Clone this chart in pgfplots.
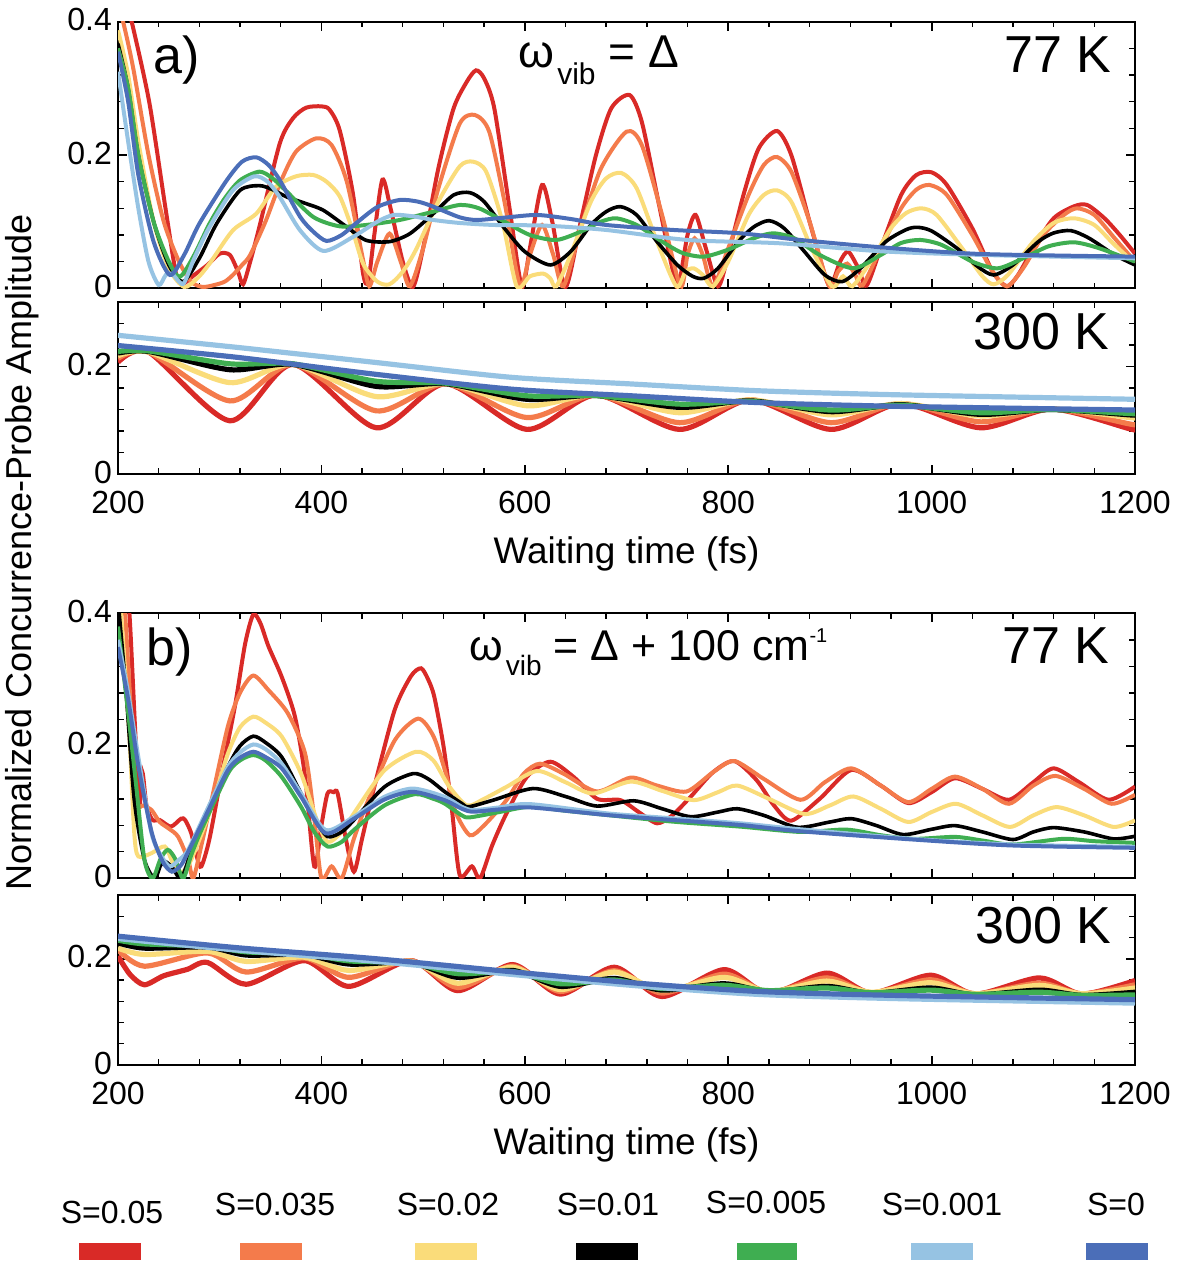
\documentclass[border=0pt]{standalone}
\usepackage{fontspec}
\setmainfont{Liberation Sans}
\usepackage{pgfplots}
\pgfplotsset{compat=1.18}
\definecolor{cR}{RGB}{217,42,39}
\definecolor{cO}{RGB}{244,123,75}
\definecolor{cY}{RGB}{250,220,122}
\definecolor{cK}{RGB}{0,0,0}
\definecolor{cG}{RGB}{63,174,81}
\definecolor{cL}{RGB}{150,195,227}
\definecolor{cB}{RGB}{75,110,184}
\newcommand\fs[1]{\fontsize{#1}{#1}\selectfont}
\pgfplotsset{
  panel/.style={
    scale only axis, width=508.5pt,
    xmin=200, xmax=1200, ymin=0,
    xtick={200,400,...,1200}, minor x tick num=4,
    tick align=inside,
    major tick length=4.5pt, minor tick length=2.8pt,
    axis line style={line width=1pt},
    every major tick/.append style={line width=0.9pt, black},
    every minor tick/.append style={line width=0.7pt, black},
    tick label style={font=\fs{16}},
    /pgf/number format/assume math mode=true,
    /pgf/number format/1000 sep={},
    xticklabel style={yshift=-5pt},
    yticklabel style={xshift=0.5pt, yshift=1pt},
    clip=true,
  },
  lw/.style={line width=2pt, smooth, tension=0.45},
  sR/.style={cR, lw}, sO/.style={cO, lw}, sY/.style={cY, lw}, sK/.style={cK, lw, line width=1.8pt},
  sG/.style={cG, lw}, sL/.style={cL, lw}, sB/.style={cB, lw},
  hot/.style={line width=2.6pt},
  xl/.style={xlabel={Waiting time (fs)}, xlabel style={font=\fs{18.5}, at={(axis description cs:0.5,0)}, anchor=north, inner sep=0pt, yshift=-31pt}},
}
\begin{document}
\begin{tikzpicture}
\useasboundingbox (0,0) rectangle (588pt,-630.5pt);
% ---------------- a) 77 K
\begin{axis}[panel, at={(59pt,-10.85pt)}, anchor=north west, height=133.3pt,
  ymax=0.4, ytick={0,0.2,0.4}, minor ytick={0.04,0.08,0.12,0.16,0.24,0.28,0.32,0.36}, xticklabels={}]
\addplot[sR] coordinates {(200,0.47) (208,0.43) (215,0.39) (231,0.277) (247,0.117) (257,0.022) (263,0.006) (275,0.02) (288,0.035) (300,0.052) (310,0.05) (318,0.025) (323,0.006) (330,0.04) (339,0.092) (359,0.217) (372,0.255) (385,0.271) (400,0.273) (408,0.268) (418,0.237) (431,0.142) (441,0.022) (446,0.01) (452,0.08) (460,0.163) (468,0.12) (480,0.04) (490,0.002) (500,0.06) (515,0.18) (530,0.27) (543,0.31) (552,0.327) (560,0.315) (570,0.27) (585,0.12) (597,0.003) (605,0.06) (617,0.155) (627,0.1) (640,0.002) (655,0.1) (670,0.2) (685,0.27) (703,0.29) (715,0.25) (730,0.14) (745,0.03) (751,0.003) (760,0.08) (768,0.11) (778,0.06) (790,0.003) (800,0.05) (815,0.14) (830,0.21) (848,0.236) (862,0.2) (880,0.1) (895,0.02) (901,0.003) (910,0.04) (918,0.055) (928,0.03) (936,0.004) (950,0.06) (970,0.14) (985,0.17) (1000,0.174) (1015,0.155) (1040,0.09) (1060,0.025) (1074,0.003) (1085,0.02) (1100,0.06) (1120,0.105) (1140,0.123) (1153,0.125) (1170,0.105) (1185,0.08) (1200,0.052)};
\addplot[sO] coordinates {(200,0.42) (205,0.4) (215,0.33) (230,0.2) (245,0.1) (260,0.04) (272,0.01) (283,0.002) (295,0.005) (305,0.01) (313,0.02) (322,0.035) (330,0.05) (345,0.1) (360,0.16) (375,0.205) (395,0.225) (410,0.215) (425,0.16) (440,0.05) (447,0.003) (455,0.04) (467,0.082) (478,0.04) (487,0.003) (500,0.06) (515,0.15) (536,0.247) (551,0.26) (565,0.235) (580,0.13) (595,0.005) (605,0.05) (617,0.095) (628,0.05) (638,0.003) (655,0.09) (675,0.18) (700,0.235) (715,0.215) (735,0.11) (753,0.003) (760,0.05) (767,0.075) (775,0.05) (785,0.003) (800,0.06) (820,0.14) (835,0.185) (848,0.197) (862,0.175) (880,0.1) (899,0.004) (908,0.025) (917,0.037) (925,0.02) (932,0.004) (950,0.06) (970,0.12) (985,0.148) (998,0.155) (1015,0.14) (1040,0.08) (1060,0.025) (1074,0.003) (1090,0.03) (1110,0.08) (1130,0.11) (1143,0.12) (1160,0.11) (1180,0.075) (1200,0.04)};
\addplot[sY] coordinates {(200,0.387) (210,0.32) (220,0.22) (235,0.1) (250,0.03) (265,0.002) (278,0.015) (290,0.037) (313,0.087) (336,0.112) (355,0.152) (375,0.168) (392,0.17) (405,0.16) (418,0.138) (430,0.09) (441,0.037) (455,0.01) (467,0.006) (480,0.025) (493,0.058) (515,0.13) (536,0.183) (549,0.19) (562,0.175) (578,0.1) (592,0.003) (605,0.018) (618,0.022) (625,0.015) (631,0.003) (645,0.05) (665,0.13) (680,0.165) (695,0.173) (710,0.15) (730,0.07) (749,0.003) (758,0.025) (766,0.03) (775,0.02) (785,0.003) (800,0.04) (820,0.11) (835,0.14) (848,0.147) (862,0.13) (882,0.06) (902,0.003) (913,0.018) (922,0.003) (940,0.04) (960,0.09) (975,0.113) (990,0.12) (1005,0.11) (1030,0.06) (1050,0.018) (1061,0.006) (1075,0.02) (1100,0.07) (1120,0.098) (1140,0.105) (1160,0.095) (1180,0.065) (1200,0.037)};
\addplot[sK] coordinates {(200,0.367) (210,0.3) (220,0.2) (235,0.1) (250,0.035) (264,0.01) (280,0.045) (297,0.097) (320,0.147) (339,0.154) (352,0.148) (366,0.137) (385,0.127) (402,0.117) (425,0.092) (444,0.072) (467,0.07) (487,0.082) (510,0.112) (530,0.14) (546,0.1435) (560,0.13) (580,0.09) (600,0.055) (625,0.035) (645,0.055) (665,0.095) (680,0.115) (694,0.1225) (710,0.11) (730,0.07) (750,0.035) (765,0.018) (776,0.015) (790,0.03) (810,0.07) (825,0.092) (840,0.1015) (855,0.09) (875,0.055) (895,0.02) (912,0.01) (930,0.03) (955,0.07) (975,0.088) (986,0.0915) (1000,0.086) (1025,0.06) (1045,0.033) (1061,0.02) (1080,0.035) (1105,0.07) (1120,0.083) (1137,0.0865) (1155,0.075) (1180,0.05) (1200,0.035)};
\addplot[sG] coordinates {(200,0.36) (210,0.3) (220,0.2) (235,0.1) (250,0.04) (261,0.0175) (275,0.05) (290,0.097) (305,0.135) (320,0.162) (339,0.175) (352,0.165) (366,0.145) (392,0.107) (418,0.093) (444,0.095) (477,0.1025) (510,0.115) (536,0.125) (555,0.12) (580,0.1) (605,0.08) (631,0.0725) (655,0.085) (675,0.1) (690,0.105) (710,0.095) (735,0.07) (755,0.053) (776,0.0475) (800,0.058) (825,0.075) (844,0.0825) (865,0.075) (890,0.05) (923,0.03) (950,0.05) (970,0.068) (989,0.0725) (1010,0.065) (1040,0.04) (1065,0.03) (1090,0.045) (1115,0.063) (1140,0.069) (1165,0.06) (1200,0.04)};
\addplot[sL] coordinates {(200,0.325) (210,0.22) (220,0.12) (230,0.04) (240,0.005) (247,0.02) (253,0.022) (260,0.01) (265,0.008) (275,0.045) (290,0.092) (313,0.147) (334,0.168) (347,0.16) (359,0.137) (379,0.087) (402,0.056) (431,0.077) (455,0.1) (471,0.11) (490,0.108) (510,0.1025) (536,0.098) (570,0.095) (620,0.094) (680,0.0875) (760,0.0725) (851,0.0675) (950,0.0555) (1050,0.05) (1200,0.045)};
\addplot[sB] coordinates {(200,0.355) (210,0.28) (220,0.17) (235,0.07) (251,0.02) (265,0.05) (280,0.097) (306,0.16) (322,0.19) (336,0.1965) (348,0.185) (359,0.1625) (379,0.1075) (392,0.085) (405,0.071) (420,0.08) (434,0.0975) (455,0.122) (477,0.1325) (495,0.13) (510,0.1225) (536,0.1065) (553,0.1025) (580,0.106) (612,0.11) (645,0.104) (680,0.095) (746,0.0875) (812,0.0825) (871,0.0725) (950,0.0615) (1048,0.0515) (1200,0.0475)};
\end{axis}
% ---------------- a) 300 K
\begin{axis}[panel, at={(59pt,-151pt)}, anchor=north west, height=86pt,
  ymax=0.32, ytick={0,0.2}, minor ytick={0.04,0.08,0.12,0.16,0.24,0.28}, xl]
\addplot[sR,hot] coordinates {(200,0.208) (230,0.227) (310,0.099) (372,0.204) (454,0.086) (522,0.168) (602,0.083) (670,0.147) (752,0.083) (822,0.138) (901,0.083) (970,0.131) (1048,0.086) (1118,0.121) (1195,0.084) (1200,0.0835)};
\addplot[sO,hot] coordinates {(200,0.215) (230,0.227) (310,0.136) (372,0.204) (454,0.1175) (522,0.168) (602,0.105) (670,0.147) (752,0.0955) (822,0.138) (901,0.0955) (970,0.131) (1048,0.097) (1118,0.121) (1195,0.093) (1200,0.093)};
\addplot[sY,hot] coordinates {(200,0.22) (230,0.227) (310,0.17) (372,0.204) (454,0.144) (522,0.168) (602,0.127) (670,0.147) (752,0.114) (822,0.138) (901,0.11) (970,0.131) (1048,0.108) (1118,0.121) (1195,0.105) (1200,0.105)};
\addplot[sK,hot] coordinates {(200,0.225) (230,0.228) (310,0.194) (372,0.204) (454,0.163) (522,0.168) (602,0.139) (670,0.146) (752,0.124) (822,0.136) (901,0.116) (970,0.129) (1048,0.111) (1118,0.12) (1195,0.11) (1200,0.11)};
\addplot[sG,hot] coordinates {(200,0.228) (230,0.229) (310,0.205) (372,0.205) (454,0.1725) (522,0.169) (602,0.1455) (670,0.146) (752,0.13) (822,0.135) (901,0.119) (970,0.128) (1048,0.114) (1118,0.12) (1195,0.1125) (1200,0.1125)};
\addplot[sL,hot] coordinates {(200,0.258) (315,0.236) (451,0.208) (586,0.18) (700,0.168) (828,0.155) (963,0.1475) (1200,0.139)};
\addplot[sB,hot] coordinates {(200,0.239) (315,0.2175) (451,0.186) (586,0.158) (700,0.146) (828,0.133) (963,0.126) (1200,0.119)};
\end{axis}
% ---------------- b) 77 K
\begin{axis}[panel, at={(59pt,-306.65pt)}, anchor=north west, height=132.5pt,
  ymax=0.4, ytick={0,0.2,0.4}, minor ytick={0.04,0.08,0.12,0.16,0.24,0.28,0.32,0.36}, xticklabels={}]
\addplot[sR] coordinates {(200,0.7) (207,0.5) (212,0.38) (217,0.22) (221,0.11) (224,0.16) (228,0.11) (234,0.088) (241,0.088) (252,0.078) (262,0.09) (266,0.088) (272,0.068) (278,0.03) (282,0.018) (290,0.06) (302,0.158) (315,0.26) (325,0.354) (333,0.398) (340,0.385) (348,0.35) (361,0.304) (374,0.244) (384,0.153) (393,0.018) (400,0.08) (406,0.128) (412,0.13) (416,0.128) (424,0.06) (432,0.01) (440,0.06) (452,0.138) (472,0.254) (488,0.305) (498,0.317) (505,0.3) (511,0.274) (520,0.2) (528,0.108) (536,0.005) (548,0.018) (556,0.0) (568,0.05) (582,0.098) (602,0.153) (625,0.176) (648,0.153) (671,0.12) (694,0.118) (712,0.1) (730,0.083) (745,0.095) (763,0.123) (785,0.16) (806,0.177) (828,0.148) (845,0.11) (862,0.087) (890,0.12) (921,0.1635) (950,0.14) (977,0.1135) (1000,0.13) (1023,0.151) (1050,0.135) (1076,0.1185) (1100,0.145) (1120,0.166) (1145,0.145) (1174,0.1185) (1200,0.1385)};
\addplot[sO] coordinates {(200,0.55) (207,0.4) (212,0.27) (218,0.118) (225,0.11) (233,0.103) (241,0.085) (250,0.075) (259,0.063) (269,0.028) (274,0.0) (282,0.05) (292,0.118) (308,0.229) (320,0.28) (333,0.306) (348,0.284) (367,0.249) (384,0.188) (393,0.09) (400,0.0) (410,0.018) (420,0.0) (432,0.06) (446,0.118) (472,0.208) (495,0.241) (510,0.215) (522,0.16) (532,0.1) (546,0.065) (560,0.08) (582,0.118) (599,0.158) (615,0.173) (638,0.158) (671,0.131) (704,0.152) (730,0.14) (759,0.131) (785,0.16) (806,0.177) (835,0.15) (871,0.1185) (895,0.145) (921,0.166) (950,0.14) (977,0.115) (1000,0.135) (1023,0.1535) (1050,0.135) (1076,0.1125) (1100,0.14) (1122,0.1545) (1150,0.135) (1177,0.1125) (1200,0.126)};
\addplot[sY] coordinates {(200,0.45) (203,0.4) (211,0.219) (216,0.068) (220,0.033) (233,0.038) (246,0.048) (254,0.023) (262,0.008) (272,0.028) (292,0.108) (308,0.188) (320,0.228) (333,0.244) (345,0.235) (361,0.214) (380,0.158) (395,0.09) (406,0.055) (420,0.07) (432,0.098) (462,0.163) (493,0.191) (510,0.178) (525,0.14) (543,0.11) (560,0.12) (582,0.138) (612,0.162) (640,0.145) (667,0.128) (704,0.146) (735,0.132) (766,0.118) (790,0.13) (809,0.14) (840,0.12) (875,0.097) (900,0.11) (923,0.1235) (950,0.105) (977,0.085) (1000,0.1) (1024,0.1125) (1050,0.095) (1077,0.0775) (1100,0.095) (1123,0.1075) (1150,0.095) (1179,0.0775) (1200,0.0875)};
\addplot[sK] coordinates {(200,0.42) (208,0.28) (216,0.118) (226,0.028) (236,0.0) (242,0.02) (247,0.025) (254,0.015) (262,0.0) (272,0.04) (282,0.083) (308,0.168) (320,0.2) (333,0.2145) (345,0.205) (361,0.183) (380,0.128) (393,0.09) (406,0.063) (420,0.07) (432,0.088) (462,0.138) (490,0.158) (505,0.15) (521,0.131) (538,0.113) (545,0.108) (569,0.118) (608,0.1355) (641,0.123) (671,0.109) (707,0.117) (735,0.105) (763,0.093) (790,0.1) (809,0.105) (835,0.095) (868,0.077) (900,0.085) (921,0.09) (945,0.08) (972,0.066) (1000,0.074) (1023,0.0795) (1050,0.07) (1080,0.0585) (1100,0.07) (1120,0.0765) (1150,0.07) (1179,0.0595) (1200,0.0635)};
\addplot[sG] coordinates {(200,0.38) (210,0.25) (218,0.138) (226,0.028) (234,0.0) (242,0.03) (249,0.043) (256,0.03) (264,0.0) (272,0.035) (282,0.073) (308,0.158) (320,0.178) (333,0.186) (345,0.178) (361,0.153) (380,0.108) (393,0.07) (406,0.048) (420,0.055) (432,0.073) (462,0.11) (492,0.127) (510,0.12) (521,0.113) (538,0.095) (546,0.092) (575,0.1) (605,0.108) (640,0.102) (681,0.0955) (746,0.0855) (812,0.078) (871,0.07) (916,0.0735) (950,0.065) (982,0.0595) (1023,0.0625) (1050,0.057) (1080,0.051) (1129,0.0595) (1160,0.056) (1200,0.0535)};
\addplot[sL] coordinates {(200,0.36) (210,0.28) (220,0.183) (233,0.068) (242,0.035) (251,0.018) (260,0.028) (269,0.043) (289,0.108) (308,0.168) (320,0.19) (333,0.202) (345,0.195) (361,0.173) (380,0.128) (404,0.073) (432,0.093) (462,0.123) (490,0.1355) (521,0.123) (538,0.108) (549,0.103) (575,0.107) (605,0.112) (681,0.098) (746,0.0905) (812,0.083) (871,0.074) (982,0.0595) (1080,0.051) (1200,0.0475)};
\addplot[sB] coordinates {(200,0.349) (210,0.27) (220,0.17) (233,0.07) (244,0.025) (253,0.01) (262,0.02) (269,0.04) (289,0.103) (308,0.163) (320,0.182) (333,0.191) (345,0.183) (361,0.166) (380,0.123) (404,0.068) (432,0.09) (462,0.119) (490,0.1305) (521,0.118) (538,0.105) (549,0.1005) (575,0.104) (605,0.107) (681,0.0955) (746,0.088) (812,0.0805) (871,0.071) (982,0.0585) (1080,0.0495) (1200,0.046)};
\end{axis}
% ---------------- b) 300 K
\begin{axis}[panel, at={(59pt,-447.5pt)}, anchor=north west, height=85pt,
  ymax=0.32, ytick={0,0.2}, minor ytick={0.04,0.08,0.12,0.16,0.24,0.28}, xl]
\addplot[sR,hot] coordinates {(200,0.205) (212,0.17) (226,0.151) (245,0.168) (268,0.18) (288,0.193) (326,0.152) (383,0.1965) (427,0.148) (488,0.1965) (534,0.14) (588,0.189) (635,0.1335) (688,0.184) (735,0.129) (796,0.1795) (840,0.134) (897,0.173) (941,0.1355) (999,0.169) (1043,0.1335) (1106,0.164) (1148,0.1335) (1200,0.159)};
\addplot[sO,hot] coordinates {(200,0.217) (226,0.186) (288,0.211) (326,0.175) (383,0.2015) (427,0.165) (488,0.1965) (534,0.146) (588,0.186) (635,0.1385) (688,0.1775) (735,0.1355) (796,0.171) (840,0.137) (897,0.164) (941,0.136) (999,0.1605) (1043,0.134) (1106,0.154) (1148,0.134) (1200,0.151)};
\addplot[sY,hot] coordinates {(200,0.22) (226,0.208) (288,0.214) (326,0.195) (383,0.203) (427,0.178) (488,0.195) (534,0.154) (588,0.184) (635,0.142) (688,0.175) (735,0.14) (796,0.165) (840,0.138) (897,0.158) (941,0.137) (999,0.155) (1043,0.134) (1106,0.15) (1148,0.134) (1200,0.145)};
\addplot[sK,hot] coordinates {(200,0.23) (226,0.22) (288,0.222) (326,0.207) (383,0.208) (427,0.19) (488,0.193) (534,0.165) (588,0.178) (635,0.148) (688,0.163) (735,0.141) (796,0.153) (840,0.138) (897,0.148) (941,0.135) (999,0.145) (1043,0.132) (1106,0.141) (1148,0.131) (1200,0.137)};
\addplot[sG,hot] coordinates {(200,0.235) (226,0.228) (288,0.224) (326,0.213) (383,0.21) (427,0.196) (488,0.192) (534,0.172) (588,0.176) (635,0.153) (688,0.16) (735,0.144) (796,0.15) (840,0.14) (897,0.145) (941,0.136) (999,0.141) (1043,0.133) (1106,0.137) (1148,0.131) (1200,0.132)};
\addplot[sL,hot] coordinates {(200,0.238) (319,0.216) (454,0.195) (590,0.17) (711,0.149) (829,0.133) (965,0.125) (1200,0.1165)};
\addplot[sB,hot] coordinates {(200,0.2425) (319,0.2205) (454,0.2) (590,0.175) (711,0.154) (829,0.1385) (965,0.131) (1200,0.123)};
\end{axis}
% ---------------- annotations
\node[anchor=base west, inner sep=0, font=\fs{26}] at (76.5pt,-36.7pt) {a)};
\node[anchor=base east, inner sep=0, font=\fs{26}] at (556pt,-36.5pt) {77 K};
\node[anchor=base west, inner sep=0, font=\fs{23}] at (259pt,-34pt) {ω\hspace{1.5pt}\raisebox{-8.5pt}{\fs{15}vib} = Δ};
\node[anchor=base east, inner sep=0, font=\fs{26}] at (555pt,-175pt) {300 K};
\node[anchor=base west, inner sep=0, font=\fs{26}] at (73pt,-332.5pt) {b)};
\node[anchor=base east, inner sep=0, font=\fs{26}] at (555pt,-331.5pt) {77 K};
\node[anchor=base west, inner sep=0, font=\fs{21.5}] at (234.5pt,-330pt) {ω\hspace{1.5pt}\raisebox{-7.5pt}{\fs{14}vib} = Δ + 100 cm\raisebox{9pt}{\fs{10}-1}};
\node[anchor=base east, inner sep=0, font=\fs{26}] at (556pt,-471.5pt) {300 K};
\node[anchor=base, rotate=90, inner sep=0, font=\fs{18}] at (15.5pt,-276pt) {Normalized Concurrence-Probe Amplitude};
% ---------------- legend
\foreach \xc/\yb/\lab in {56/611.5/S=0.05, 137.5/607.5/S=0.035, 224/607.5/S=0.02, 304/607.5/S=0.01, 383/606.5/S=0.005, 471/607.5/S=0.001, 558/607.5/S=0}
  \node[anchor=base, inner sep=0, font=\fs{16}] at (\xc pt,-\yb pt) {\lab};
\fill[cR] (39.5pt,-621.5pt) rectangle (70.5pt,-630pt);
\fill[cO] (120pt,-621.5pt) rectangle (151pt,-630pt);
\fill[cY] (207.5pt,-621.5pt) rectangle (238.5pt,-630pt);
\fill[cK] (288pt,-621.5pt) rectangle (319pt,-630pt);
\fill[cG] (368.5pt,-621.5pt) rectangle (398.5pt,-630pt);
\fill[cL] (455.5pt,-621.5pt) rectangle (486.5pt,-630pt);
\fill[cB] (543pt,-621.5pt) rectangle (574pt,-630pt);
\end{tikzpicture}
\end{document}
